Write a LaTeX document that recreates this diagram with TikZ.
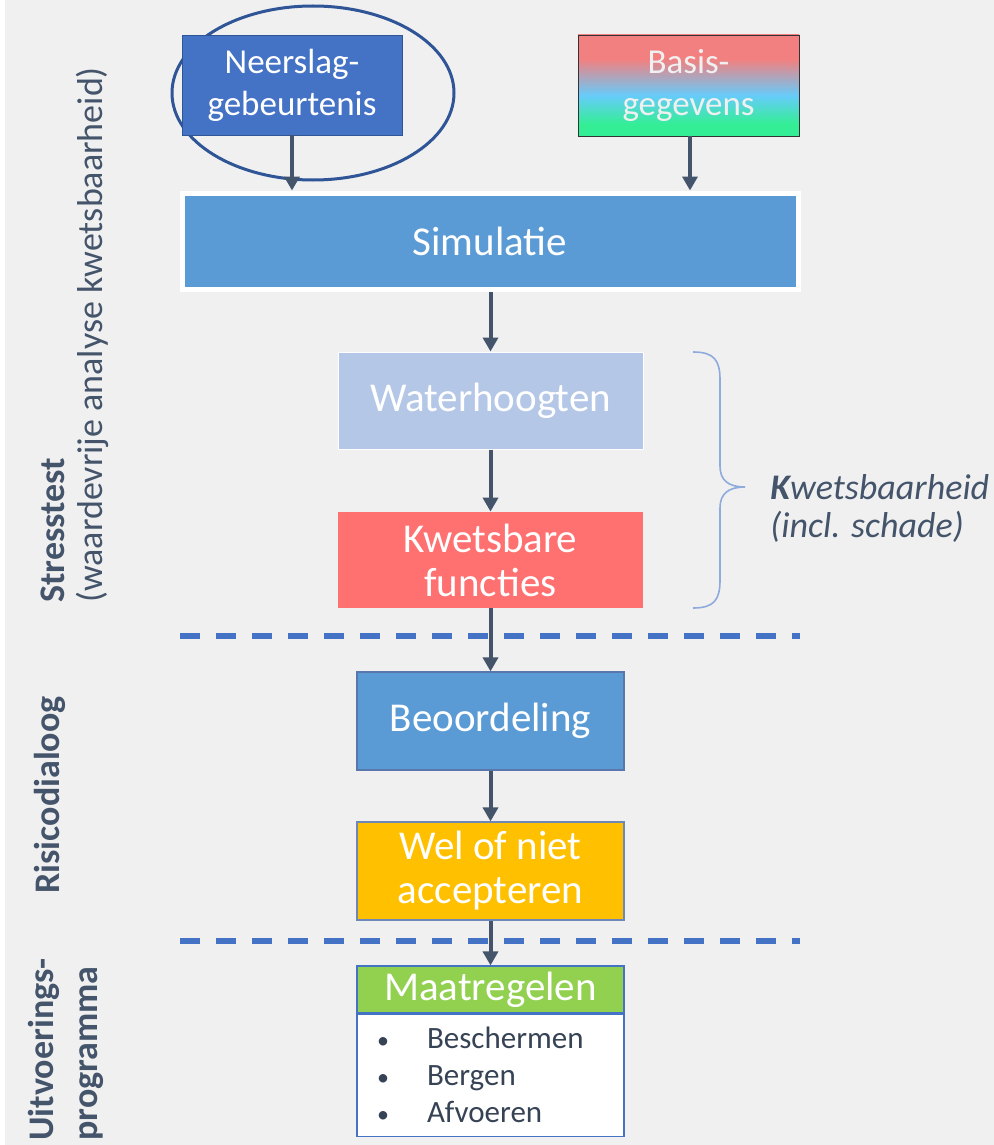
\documentclass[tikz,border=0pt]{standalone}
\usepackage{fontspec}
\setmainfont{Carlito}
\usetikzlibrary{arrows.meta}
\definecolor{donkerblauw}{RGB}{68,114,196}
\definecolor{randblauw}{RGB}{47,85,151}
\definecolor{middenblauw}{RGB}{91,155,213}
\definecolor{lichtblauw}{RGB}{180,199,231}
\definecolor{zalm}{RGB}{255,112,112}
\definecolor{oranje}{RGB}{255,192,0}
\definecolor{groen}{RGB}{146,208,80}
\definecolor{leisteen}{RGB}{68,84,106}
\definecolor{achtergrond}{RGB}{240,240,240}
\definecolor{accolade}{RGB}{143,170,220}
\definecolor{gradrood}{RGB}{242,128,128}
\definecolor{gradblauw}{RGB}{102,204,250}
\definecolor{gradgroen}{RGB}{52,238,150}
\pgfdeclareverticalshading{basisverloop}{100bp}{color(0bp)=(gradgroen); color(31bp)=(gradgroen); color(45bp)=(gradblauw); color(63bp)=(gradrood); color(100bp)=(gradrood)}
\tikzset{>={Triangle[length=7pt,width=7.5pt]}}
\tikzset{
	blok/.style={rectangle, inner sep=0pt, text=white, align=center, font=\fontsize{20.5}{22}\selectfont},
	pijl/.style={->, leisteen, line width=2pt},
	scheiding/.style={donkerblauw, line width=3pt, dash pattern=on 10pt off 8pt},
	fase/.style={leisteen, rotate=90, inner sep=0pt, align=left}
}
\newcommand{\punt}{\makebox[25pt][l]{\fontsize{12}{12}\selectfont\textbullet}}

\begin{document}
\begin{tikzpicture}[x=0.5pt, y=-0.5pt]
	\fill[white] (0,0) rectangle (994,1145);
	\fill[achtergrond] (5,0) rectangle (994,1145);
	\useasboundingbox (0,0) rectangle (994,1145);

	% invoer
	\draw[randblauw, line width=1.5pt] (313,93) ellipse [x radius=141, y radius=87];
	\node[blok, fill=donkerblauw, draw=randblauw, minimum width=110pt, minimum height=50pt, font=\fontsize{17.5}{21}\selectfont] (neerslag) at (292,85) {Neerslag-\\gebeurtenis};
	\node[blok, draw=black!80, shading=basisverloop, text=white!94!black, minimum width=110.5pt, minimum height=50.5pt, font=\fontsize{17.5}{21}\selectfont] (basis) at (688.5,85.5) {Basis-\\gegevens};

	% stresstest
	\node[blok, fill=middenblauw, draw=white, line width=2.5pt, minimum width=308pt, minimum height=48pt] (simulatie) at (490,241) {Simulatie};
	\node[blok, fill=lichtblauw, draw=white, line width=0.5pt, minimum width=152.5pt, minimum height=48.5pt] (water) at (490.5,400.5) {Waterhoogten};
	\node[blok, fill=zalm, minimum width=152.5pt, minimum height=48pt] (kwetsbaar) at (490.5,560) {Kwetsbare\\functies};
	\draw[accolade, line width=0.8pt] (693,352) .. controls (714,352) and (720,360) .. (720,380) -- (720,466)
		.. controls (720,480) and (728,487) .. (745,487) .. controls (728,487) and (720,494) .. (720,508)
		-- (720,580) .. controls (720,600) and (714,608) .. (693,608);
	\node[anchor=west, leisteen, align=left, inner sep=0pt, font=\fontsize{18}{19}\selectfont\itshape] (schade) at (770,508) {\textbf{K}wetsbaarheid\\(incl. schade)};

	% risicodialoog en uitvoering
	\node[blok, fill=middenblauw, draw=randblauw!80, line width=0.6pt, minimum width=133.5pt, minimum height=49pt] (beoordeling) at (490.5,721) {Beoordeling};
	\node[blok, fill=oranje, draw=randblauw!70, line width=0.6pt, minimum width=133.5pt, minimum height=49pt] (accepteren) at (490.5,871) {Wel of niet\\accepteren};
	\node[blok, fill=groen, draw=donkerblauw, line width=0.6pt, minimum width=133.5pt, minimum height=23.5pt] (maatregelen) at (490.5,989.5) {Maatregelen};
	\node[rectangle, fill=white, draw=donkerblauw, line width=0.6pt, minimum width=133.5pt, minimum height=61pt, text width=113.5pt, inner xsep=10pt, align=left, text=leisteen!80!black, font=\fontsize{15.5}{18.5}\selectfont, anchor=north] (lijst) at (maatregelen.south) {\punt Beschermen\\\punt Bergen\\\punt Afvoeren};

	\draw[scheiding] (180,636) -- (800,636);
	\draw[scheiding] (180,941) -- (800,941);

	\draw[pijl] (neerslag) -- (neerslag |- simulatie.north);
	\draw[pijl] (basis.south -| 690,0) -- (690,0 |- simulatie.north);
	\draw[pijl] (simulatie.south -| water) -- (water);
	\draw[pijl] (water) -- (kwetsbaar);
	\draw[pijl] (kwetsbaar) -- (beoordeling);
	\draw[pijl] (beoordeling) -- (accepteren);
	\draw[pijl] (accepteren) -- (maatregelen);

	% fasen
	\node[fase, anchor=west, font=\fontsize{18}{19}\selectfont] (stresstest) at (75,603) {\textbf{Stresstest}\\(waardevrije analyse kwetsbaarheid)};
	\node[fase, font=\fontsize{18}{19}\selectfont\bfseries] (dialoog) at (50,795) {Risicodialoog};
	\node[fase, anchor=west, font=\fontsize{18}{22}\selectfont\bfseries] (uitvoering) at (66,1141) {Uitvoerings-\\programma};
\end{tikzpicture}
\end{document}
